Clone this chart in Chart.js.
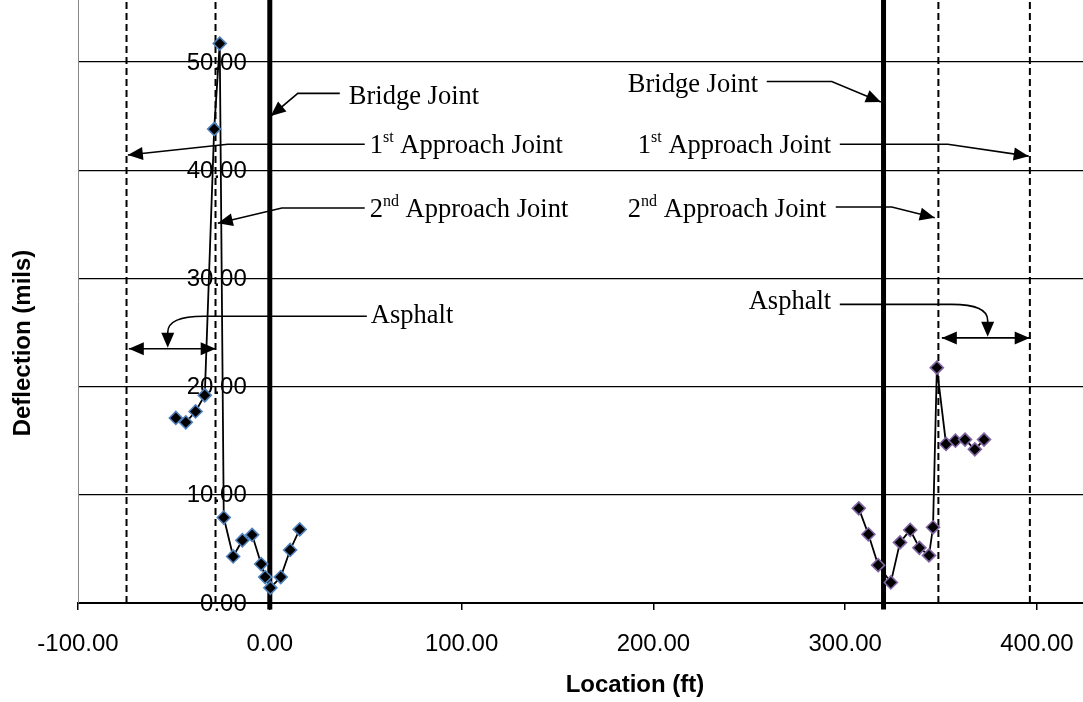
<!DOCTYPE html>
<html>
<head>
<meta charset="utf-8">
<script src="https://cdn.jsdelivr.net/npm/chart.js@4.4.1/dist/chart.umd.min.js"></script>
<style>
  html, body { margin: 0; padding: 0; background: #fff; overflow: hidden; }
  #wrap { width: 1083px; height: 702px; }
</style>
</head>
<body>
<div id="wrap"><canvas id="chart" width="1083" height="702"></canvas></div>
<script>
// approach / bridge readings (ft, mils)
const westLocation = [-49.0, -43.8, -38.7, -33.9, -29.0, -26.1, -24.0, -19.1, -14.3, -9.2, -4.5, -2.4, 0.3, 5.7, 10.6, 15.6];
const westDeflection = [17.1, 16.7, 17.7, 19.2, 43.8, 51.7, 7.9, 4.3, 5.8, 6.3, 3.6, 2.4, 1.4, 2.4, 4.9, 6.8];

const eastLocation = [307.1, 312.1, 317.2, 323.8, 328.6, 333.9, 338.7, 343.7, 345.8, 347.8, 352.6, 357.5, 362.5, 367.6, 372.4];
const eastDeflection = [8.75, 6.35, 3.5, 1.9, 5.6, 6.75, 5.1, 4.4, 7.0, 21.75, 14.7, 15.0, 15.1, 14.2, 15.1];

const bridgeJoints = [0, 320];
const approachJoints = [-74.7, -28.3, 348.6, 396.3];

const xTicks = [-100, 0, 100, 200, 300, 400];
const yTicks = [0, 10, 20, 30, 40, 50];

const xMin = -100, xMax = 424;
const yMin = 0, yMax = 55.73;
const yLabelAt = -12; // excel drew the value labels here

// callouts, in data units
const labels = [
  { at: [41.2, 46.1], parts: [["Bridge Joint"]] },
  { at: [52.1, 41.6], parts: [["1"], ["st", 1], [" Approach Joint"]] },
  { at: [52.1, 35.7], parts: [["2"], ["nd", 1], [" Approach Joint"]] },
  { at: [52.7, 25.9], parts: [["Asphalt"]] },
  { at: [186.7, 47.2], parts: [["Bridge Joint"]] },
  { at: [191.9, 41.6], parts: [["1"], ["st", 1], [" Approach Joint"]] },
  { at: [186.7, 35.7], parts: [["2"], ["nd", 1], [" Approach Joint"]] },
  { at: [249.7, 27.2], parts: [["Asphalt"]] }
];
const leaders = [
  [[36.5, 47.1], [14.6, 47.1], [0.5, 45.0]],
  [[49.5, 42.4], [-21.9, 42.4], [-74.0, 41.4]],
  [[49.5, 36.5], [6.3, 36.5], [-27.1, 35.1]],
  [[259.1, 48.2], [293.0, 48.2], [318.6, 46.3]],
  [[297.2, 42.4], [353.5, 42.4], [395.7, 41.3]],
  [[295.1, 36.6], [324.3, 36.6], [346.7, 35.6]]
];
const curvedLeaders = [
  { from: [50.6, 26.5], tip: [-53.2, 23.6] },
  { from: [297.2, 27.6], tip: [374.3, 24.6] }
];
const spans = [
  [[-73.5, 23.5], [-28.2, 23.5]],
  [[350.4, 24.5], [396.2, 24.5]]
];

function pointsFor(xs, ys) {
  return xs.map(function (x, i) { return { x: x, y: ys[i] }; });
}

function arrowHead(ctx, fx, fy, tx, ty) {
  const len = 15, half = 6.5;
  const a = Math.atan2(ty - fy, tx - fx);
  const bx = tx - len * Math.cos(a), by = ty - len * Math.sin(a);
  ctx.beginPath();
  ctx.moveTo(tx, ty);
  ctx.lineTo(bx + half * Math.sin(a), by - half * Math.cos(a));
  ctx.lineTo(bx - half * Math.sin(a), by + half * Math.cos(a));
  ctx.closePath();
  ctx.fill();
}

function noPadding(scale) {
  scale.paddingTop = 0;
  scale.paddingBottom = 0;
  scale.paddingLeft = 0;
  scale.paddingRight = 0;
}

const calloutPlugin = {
  id: "callouts",
  beforeDatasetsDraw: function (chart) {
    const ctx = chart.ctx, xs = chart.scales.x, ys = chart.scales.y;
    ctx.save();
    ctx.fillStyle = "#000";
    ctx.font = '24px "Liberation Sans", Arial, sans-serif';
    ctx.textAlign = "right";
    ctx.textBaseline = "middle";
    const lx = xs.getPixelForValue(yLabelAt);
    yTicks.forEach(function (v) {
      ctx.fillText(v.toFixed(2), lx, ys.getPixelForValue(v) + 1);
    });
    ctx.restore();
  },
  afterDatasetsDraw: function (chart) {
    const ctx = chart.ctx, xs = chart.scales.x, ys = chart.scales.y;
    const px = function (p) { return [xs.getPixelForValue(p[0]), ys.getPixelForValue(p[1])]; };
    ctx.save();
    ctx.strokeStyle = "#000";
    ctx.fillStyle = "#000";
    ctx.lineWidth = 1.6;

    leaders.forEach(function (pts) {
      const p = pts.map(px);
      ctx.beginPath();
      ctx.moveTo(p[0][0], p[0][1]);
      for (let i = 1; i < p.length; i++) ctx.lineTo(p[i][0], p[i][1]);
      ctx.stroke();
      const a = p[p.length - 2], b = p[p.length - 1];
      arrowHead(ctx, a[0], a[1], b[0], b[1]);
    });

    curvedLeaders.forEach(function (c) {
      const s = px(c.from), t = px(c.tip);
      const dir = t[0] < s[0] ? 1 : -1;
      const rx = 36, ry = 16;
      ctx.beginPath();
      ctx.moveTo(s[0], s[1]);
      ctx.lineTo(t[0] + dir * rx, s[1]);
      ctx.quadraticCurveTo(t[0], s[1], t[0], s[1] + ry);
      ctx.lineTo(t[0], t[1] - 10);
      ctx.stroke();
      arrowHead(ctx, t[0], s[1], t[0], t[1]);
    });

    spans.forEach(function (sp) {
      const a = px(sp[0]), b = px(sp[1]);
      ctx.beginPath();
      ctx.moveTo(a[0], a[1]);
      ctx.lineTo(b[0], b[1]);
      ctx.stroke();
      arrowHead(ctx, b[0], b[1], a[0], a[1]);
      arrowHead(ctx, a[0], a[1], b[0], b[1]);
    });

    ctx.textAlign = "left";
    ctx.textBaseline = "alphabetic";
    labels.forEach(function (l) {
      const p = px(l.at);
      let x = p[0];
      l.parts.forEach(function (part) {
        const sup = part[1];
        ctx.font = sup ? '16px "Liberation Serif", "Times New Roman", serif' : '26.5px "Liberation Serif", "Times New Roman", serif';
        ctx.fillText(part[0], x, sup ? p[1] - 11 : p[1]);
        x += ctx.measureText(part[0]).width;
      });
    });

    // axis titles sit off-centre in the original
    ctx.font = 'bold 24px "Liberation Sans", Arial, sans-serif';
    ctx.textAlign = "center";
    ctx.textBaseline = "middle";
    ctx.fillText("Location (ft)", 635, 685);
    ctx.translate(23, 343);
    ctx.rotate(-Math.PI / 2);
    ctx.fillText("Deflection (mils)", 0, 0);
    ctx.restore();
  }
};

const datasets = [
  {
    label: "West approach",
    data: pointsFor(westLocation, westDeflection),
    showLine: true,
    borderColor: "#000",
    borderWidth: 1.8,
    pointStyle: "rectRot",
    pointRadius: 6.5,
    pointBackgroundColor: "#000",
    pointBorderColor: "#4f81bd",
    pointBorderWidth: 1.6
  },
  {
    label: "East approach",
    data: pointsFor(eastLocation, eastDeflection),
    showLine: true,
    borderColor: "#000",
    borderWidth: 1.8,
    pointStyle: "rectRot",
    pointRadius: 6.5,
    pointBackgroundColor: "#000",
    pointBorderColor: "#8064a2",
    pointBorderWidth: 1.6
  }
];

bridgeJoints.forEach(function (x) {
  datasets.push({
    label: "Bridge joint",
    data: [{ x: x, y: -0.6 }, { x: x, y: yMax }],
    showLine: true,
    borderColor: "#000",
    borderWidth: 5,
    pointRadius: 0,
    clip: false
  });
});
approachJoints.forEach(function (x) {
  datasets.push({
    label: "Approach joint",
    data: [{ x: x, y: yMin }, { x: x, y: yMax }],
    showLine: true,
    borderColor: "#000",
    borderWidth: 2,
    borderDash: [7, 4],
    pointRadius: 0
  });
});

new Chart(document.getElementById("chart"), {
  type: "scatter",
  data: { datasets: datasets },
  options: {
    responsive: false,
    animation: false,
    layout: { padding: 0, autoPadding: false },
    plugins: {
      legend: { display: false },
      tooltip: { enabled: false }
    },
    scales: {
      x: {
        type: "linear",
        min: xMin,
        max: xMax,
        afterBuildTicks: function (scale) {
          scale.ticks = xTicks.map(function (v) { return { value: v }; });
        },
        afterFit: function (scale) { scale.height = 99; noPadding(scale); },
        ticks: {
          autoSkip: false,
          maxRotation: 0,
          padding: 20,
          color: "#000",
          font: { family: '"Liberation Sans", Arial, sans-serif', size: 24 },
          callback: function (v) { return Number(v).toFixed(2); }
        },
        grid: { drawOnChartArea: false, drawTicks: true, tickLength: 7, color: "#000", lineWidth: 1.5 },
        border: { color: "#000", width: 2 }
      },
      y: {
        type: "linear",
        min: yMin,
        max: yMax,
        afterBuildTicks: function (scale) {
          scale.ticks = yTicks.map(function (v) { return { value: v }; });
        },
        afterFit: function (scale) { scale.width = 78; noPadding(scale); },
        ticks: { display: false },
        grid: { color: "#000", lineWidth: 1.3, drawTicks: false },
        border: { color: "#888", width: 1 }
      }
    }
  },
  plugins: [calloutPlugin]
});
</script>
</body>
</html>
